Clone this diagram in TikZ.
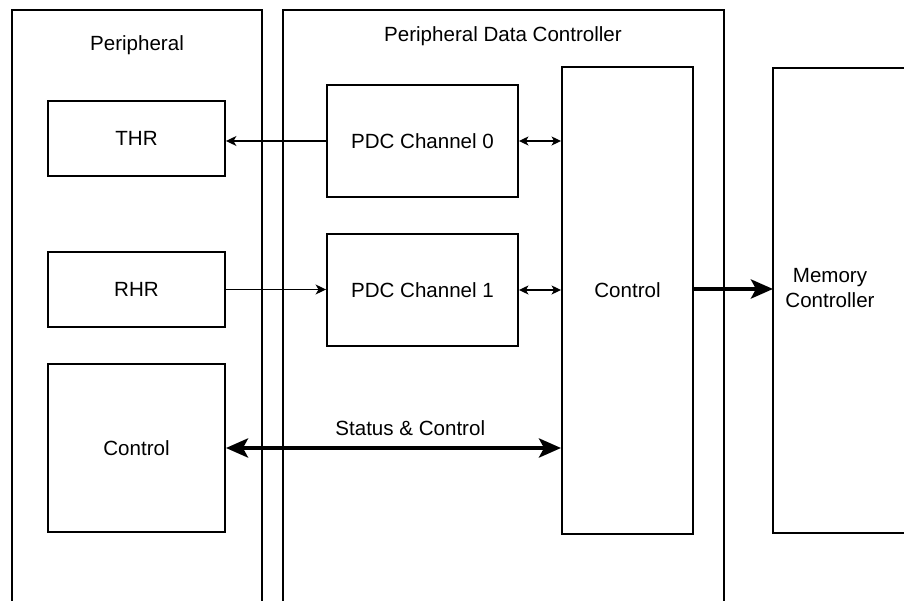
\documentclass[tikz,border=0pt]{standalone}
\usepackage{fontspec}
\setmainfont{Liberation Sans}
\usetikzlibrary{arrows.meta,positioning}

\begin{document}
\begin{tikzpicture}[x=0.02cm,y=-0.02cm,line width=1.1pt,
		font=\fontsize{11.7}{14}\selectfont,
		reg/.style={draw,inner sep=0pt,minimum width=3.54cm,minimum height=1.5cm},
		chan/.style={draw,inner sep=0pt,minimum width=3.82cm,minimum height=2.24cm},
		lnk/.style={line width=0.7pt,-{Stealth[length=0.21cm,width=0.2cm,inset=0.06cm]}},
		lnkb/.style={line width=0.7pt,{Stealth[length=0.19cm,width=0.18cm,inset=0.05cm]}-{Stealth[length=0.19cm,width=0.18cm,inset=0.05cm]}},
		bus/.style={line width=2.8pt,-{Stealth[length=0.44cm,width=0.38cm,inset=0.1cm]}},
		busb/.style={line width=2.8pt,{Stealth[length=0.44cm,width=0.38cm,inset=0.1cm]}-{Stealth[length=0.44cm,width=0.38cm,inset=0.1cm]}}]
		\useasboundingbox (0,0) rectangle (904,601);
		% open frames
		\draw (12,601) -- (12,10) -- (262,10) -- (262,601);
		\draw (283,601) -- (283,10) -- (724,10) -- (724,601);
		\draw (904,68) -- (773,68) -- (773,533) -- (904,533);
		\node (perT) at (137,45) {Peripheral};
		\node (pdcT) at (503,36) {Peripheral Data Controller};
		% peripheral side
		\node[reg] (thr) at (136.5,138.5) {THR};
		\node[reg] (rhr) at (136.5,289.5) {RHR};
		\node[reg,minimum height=3.36cm] (pctl) at (136.5,448) {Control};
		% pdc side
		\node[chan] (ch0) at (422.5,141) {PDC Channel 0};
		\node[chan] (ch1) at (422.5,290) {PDC Channel 1};
		\node[draw,inner sep=0pt,minimum width=2.62cm,minimum height=9.34cm,
			label={[yshift=0.2cm]center:Control}] (ctl) at (627.5,300.5) {};
		\node[align=center] (memT) at (830,288) {Memory\\Controller};
		\coordinate (memIn) at (773,289);
		% connections
		\draw[lnk] (ch0.west) -- (ch0.west -| thr.east);
		\draw[lnk] (rhr.east) -- (rhr.east -| ch1.west);
		\draw[lnkb] (ch0.east) -- (ch0.east -| ctl.west);
		\draw[lnkb] (ch1.east) -- (ch1.east -| ctl.west);
		\draw[bus] (ctl.east |- memIn) -- (memIn);
		\draw[busb] (pctl.east) -- node[pos=0.55,above=2pt] (stT) {Status \& Control} (pctl.east -| ctl.west);
	\end{tikzpicture}
\end{document}
